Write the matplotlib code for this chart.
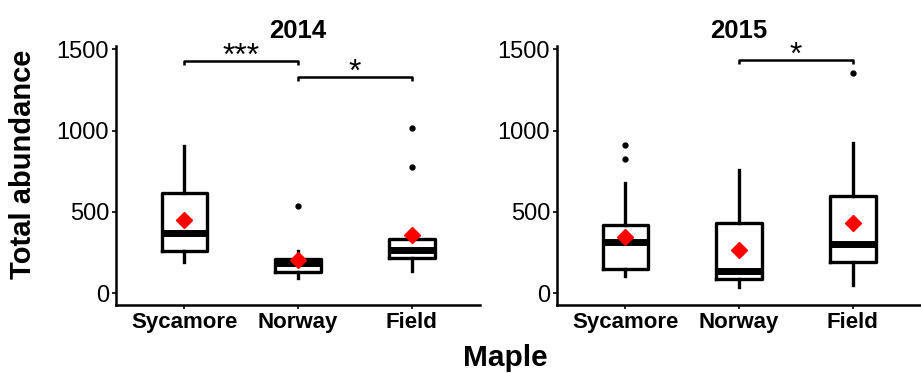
import matplotlib
matplotlib.use("Agg")
import matplotlib.pyplot as plt

plt.rcParams['font.family'] = ['Liberation Sans', 'DejaVu Sans']

categories = ["Sycamore", "Norway", "Field"]
years = ["2014", "2015"]

# box stats per year: whislo, q1, med, q3, whishi
whislo = {"2014": [191, 93, 140], "2015": [109, 37, 51]}
q1 = {"2014": [261, 128, 214], "2015": [150, 86, 195]}
med = {"2014": [370, 185, 265], "2015": [317, 136, 305]}
q3 = {"2014": [617, 210, 331], "2015": [422, 434, 597]}
whishi = {"2014": [905, 259, 331], "2015": [679, 755, 926]}
means = {"2014": [450, 202, 356], "2015": [346, 267, 434]}
outliers = {"2014": [[], [535], [776, 1014]],
            "2015": [[823, 909], [], [1354]]}

# significance brackets: (year, from idx, to idx, y, label)
brackets = [("2014", 1, 2, 1428, "***"),
            ("2014", 2, 3, 1331, "*"),
            ("2015", 2, 3, 1436, "*")]

W, H = 921, 373
fig = plt.figure(figsize=(W / 100, H / 100), dpi=100)

def px_axes(x0, x1, ytop, ybot):
    return fig.add_axes([x0 / W, 1 - ybot / H, (x1 - x0) / W, (ybot - ytop) / H])

axes = {"2014": px_axes(116, 480, 46, 305), "2015": px_axes(557, 921, 46, 305)}

for yr, ax in axes.items():
    stats = []
    for i in range(3):
        stats.append(dict(whislo=whislo[yr][i], q1=q1[yr][i], med=med[yr][i],
                          q3=q3[yr][i], whishi=whishi[yr][i], fliers=outliers[yr][i]))
    ax.bxp(stats, positions=[1, 2, 3], widths=0.4, showcaps=False, showfliers=True,
           boxprops=dict(linewidth=2.4, color="black"),
           whiskerprops=dict(linewidth=2.4, color="black"),
           medianprops=dict(linewidth=5, color="black", solid_capstyle="butt"),
           flierprops=dict(marker="o", markersize=3.5, markerfacecolor="black",
                           markeredgecolor="black"))
    ax.plot([1, 2, 3], means[yr], linestyle="none", marker="D", markersize=8,
            color="red", zorder=5)
    for (byr, a, b, y, lab) in brackets:
        if byr != yr:
            continue
        ax.plot([a, a, b, b], [y - 25, y, y, y - 25], color="black", linewidth=1.8,
                solid_capstyle="butt")
        ax.text((a + b) / 2, y - 70, lab, ha="center", va="bottom", fontsize=23,
                clip_on=False)
    ax.set_xlim(0.4, 3.6)
    ax.set_ylim(-72, 1520)
    ax.set_xticks([1, 2, 3])
    ax.set_xticklabels(categories, fontsize=16, fontweight="bold")
    ax.set_yticks([0, 500, 1000, 1500])
    ax.set_yticklabels(["0", "500", "1000", "1500"], fontsize=17)
    ax.tick_params(length=3, width=1.2, pad=2)
    for s in ["top", "right"]:
        ax.spines[s].set_visible(False)
    for s in ["left", "bottom"]:
        ax.spines[s].set_linewidth(1.8)
    ax.set_title(yr, fontsize=18.5, fontweight="bold", pad=6)
    ax.set_facecolor("white")

fig.text(23 / W, 1 - 164 / H, "Total abundance", rotation=90, ha="center", va="center",
         fontsize=21, fontweight="bold")
fig.text(505 / W, 1 - 366 / H, "Maple", ha="center", va="baseline",
         fontsize=21.5, fontweight="bold")

fig.savefig("out.png", dpi=100)
